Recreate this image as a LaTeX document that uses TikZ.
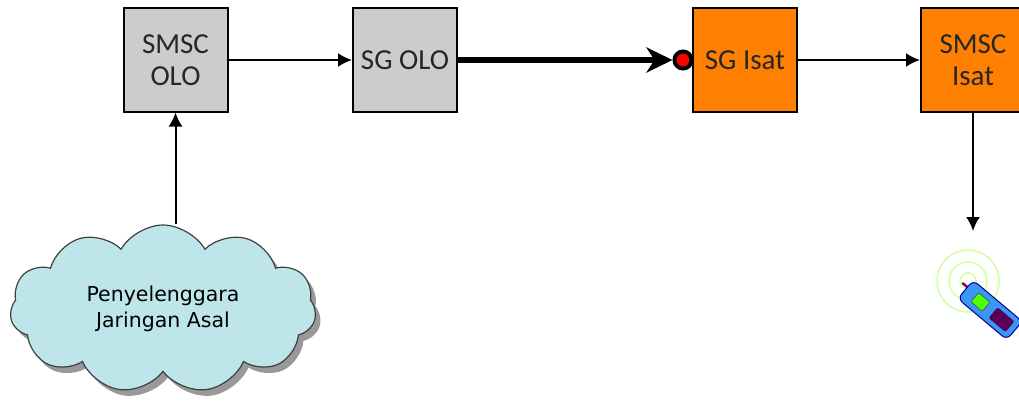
\documentclass[tikz,border=0pt]{standalone}
\usepackage{fontspec}
\setmainfont{Carlito}
\newfontfamily\cloudfont{DejaVu Sans}
\usetikzlibrary{arrows.meta,shapes.symbols,shadows}

\definecolor{ologray}{RGB}{204,204,204}
\definecolor{isatorange}{RGB}{255,128,0}
\definecolor{netcyan}{RGB}{190,230,234}
\definecolor{ringgreen}{RGB}{210,255,160}
\definecolor{phoneblue}{RGB}{60,150,245}

\tikzset{
  unit/.style={draw=black, line width=2pt, minimum width=104pt, minimum height=103pt,
    inner sep=0pt, align=center, text=black!85, font=\fontsize{29}{32}\selectfont},
  olo/.style={unit, fill=ologray},
  isat/.style={unit, fill=isatorange},
  link/.style={line width=2pt, -{Latex[length=14pt,width=14pt]}},
}

\begin{document}
\begin{tikzpicture}[x=1pt, y=-1pt]
\useasboundingbox (0,0) rectangle (1019,404);
\clip (0,0) rectangle (1019,404);

% the four boxes along the top
\node [olo] (smscolo) at (175.5,60) {SMSC\\OLO};
\node [olo] (sgolo) at (405,60) {SG OLO};
\node [isat] (sgisat) at (745,60) {SG Isat};
\node [isat] (smscisat) at (973,60) {SMSC\\Isat};
\node [circle, draw=black, line width=4pt, fill=red, minimum size=17pt, inner sep=0pt] (rx) at (683,60) {};

% originating network
\node [cloud, cloud puffs=11, cloud puff arc=120, aspect=1.9, draw=black!75, line width=1.2pt,
  fill=netcyan, minimum width=306pt, minimum height=168pt, align=center,
  font=\cloudfont\fontsize{20.5}{26}\selectfont,
  drop shadow={shadow xshift=5pt, shadow yshift=-6pt, opacity=0.5, fill=black!80}]
  (asal) at (163,309) {Penyelenggara\\Jaringan Asal};

\coordinate (handset) at (973,231);

\draw [link] (smscolo.south |- asal.north) -- (smscolo.south);
\draw [link] (smscolo.east) -- (sgolo.west);
\draw [line width=6pt, -{Stealth[length=26pt,width=25pt,inset=8pt]}] (sgolo.east) -- (rx.west);
\draw [link] (sgisat.east) -- (smscisat.west);
\draw [link] (smscisat.south) -- (handset);

% handset with rings
\foreach \r in {8,19,31}
  \draw [ringgreen, line width=1.5pt] (968,281) circle (\r);
\begin{scope}[shift={(990,310)}, rotate=-40]
  \draw [violet, line width=2.5pt, line cap=round] (-28,-3) -- (-38,-3);
  \filldraw [fill=phoneblue, draw=blue!55!black, line width=1pt, rounded corners=6pt] (-32,-12) rectangle (32,12);
  \filldraw [fill=green!70!yellow, draw=black!70, line width=0.6pt, rounded corners=2pt] (-20,-6) rectangle (-5,6);
  \fill [violet!70!black, rounded corners=2pt] (4,-7) rectangle (26,7);
\end{scope}
\end{tikzpicture}
\end{document}
